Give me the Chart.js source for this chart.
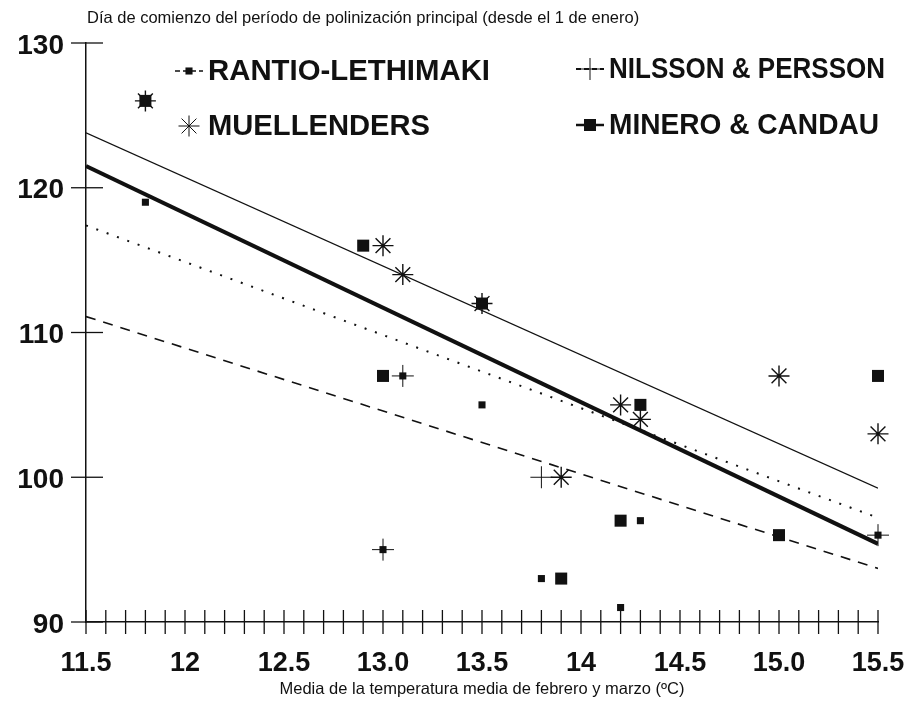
<!DOCTYPE html>
<html>
<head>
<meta charset="utf-8">
<script src="https://cdn.jsdelivr.net/npm/chart.js@4/dist/chart.umd.min.js"></script>
<style>
  html, body { margin: 0; padding: 0; background: #fff; }
  canvas { display: block; }
</style>
</head>
<body>
<canvas id="chart" width="909" height="714"></canvas>
<script>
// valores
const xTickLabels = ['11.5', '12', '12.5', '13.0', '13.5', '14', '14.5', '15.0', '15.5'];
const yTickLabels = ['90', '100', '110', '120', '130'];

const rantioX = [11.8, 13.1, 13.0, 13.5, 13.8, 14.2, 14.3, 15.5];
const rantioY = [119, 107, 95, 105, 93, 91, 97, 96];

const nilssonX = [13.1, 13.0, 13.8, 15.5];
const nilssonY = [107, 95, 100, 96];

const muellendersX = [11.8, 13.0, 13.1, 13.5, 13.9, 14.2, 14.3, 15.0, 15.5];
const muellendersY = [126, 116, 114, 112, 100, 105, 104, 107, 103];

const mineroX = [11.8, 12.9, 13.0, 13.5, 13.9, 14.2, 14.3, 15.0, 15.5];
const mineroY = [126, 116, 107, 112, 93, 97, 105, 96, 107];

// rectas de regresión (extremos)
const fitX = [11.5, 15.5];
const muellendersFit = [123.8, 99.25];
const mineroFit = [121.5, 95.4];
const nilssonFit = [117.4, 97.2];
const rantioFit = [111.1, 93.7];

const seriesNames = ['RANTIO-LETHIMAKI', 'NILSSON & PERSSON', 'MUELLENDERS', 'MINERO & CANDAU'];

const INK = '#111';
const FONT = "'Liberation Sans', Arial, sans-serif";

const toPts = (xs, ys) => xs.map((x, i) => ({ x: x, y: ys[i] }));

const fitLine = (ys, width, dash) => ({
    type: 'line',
    data: toPts(fitX, ys),
    borderColor: INK,
    borderWidth: width,
    borderDash: dash,
    pointRadius: 0,
    fill: false,
    showLine: true
});

const markers = (label, xs, ys, style, radius, bw) => ({
    type: 'scatter',
    label: label,
    data: toPts(xs, ys),
    pointStyle: style,
    pointRadius: radius,
    pointHoverRadius: radius,
    pointBorderWidth: bw,
    pointBackgroundColor: INK,
    pointBorderColor: INK,
    showLine: false,
    clip: false
});

// marcas que cruzan los ejes
const crossTicks = {
    id: 'crossTicks',
    afterDatasetsDraw(chart) {
        const ctx = chart.ctx;
        const xs = chart.scales.x, ys = chart.scales.y;
        ctx.save();
        ctx.strokeStyle = INK;
        ctx.lineWidth = 1.3;
        xs.ticks.forEach(t => {
            const px = xs.getPixelForValue(t.value);
            ctx.beginPath();
            ctx.moveTo(px, ys.bottom - 12);
            ctx.lineTo(px, ys.bottom + 12);
            ctx.stroke();
        });
        ys.ticks.forEach(t => {
            const py = ys.getPixelForValue(t.value);
            ctx.beginPath();
            ctx.moveTo(xs.left - 15, py);
            ctx.lineTo(xs.left + 17, py);
            ctx.stroke();
        });
        ctx.restore();
    }
};

// títulos de los ejes
const axisTexts = {
    id: 'axisTexts',
    afterDraw(chart) {
        const ctx = chart.ctx;
        const area = chart.chartArea;
        ctx.save();
        ctx.fillStyle = INK;
        ctx.font = '16.5px ' + FONT;
        ctx.textBaseline = 'middle';
        ctx.textAlign = 'left';
        ctx.fillText('Día de comienzo del período de polinización principal (desde el 1 de enero)', area.left + 1, 18);
        ctx.textAlign = 'center';
        ctx.fillText('Media de la temperatura media de febrero y marzo (ºC)', (area.left + area.right) / 2, 689);
        ctx.restore();
    }
};

// leyenda en dos columnas dentro del área
const legendBox = {
    id: 'legendBox',
    afterDraw(chart) {
        const ctx = chart.ctx;
        const area = chart.chartArea;
        const slots = [
            { ds: 4, line: 3, mx: 103, my: 28, w: 282 },
            { ds: 5, line: 2, mx: 504, my: 26, w: 276 },
            { ds: 6, line: null, mx: 103, my: 83, w: 222 },
            { ds: 7, line: 1, mx: 504, my: 82, w: 270 }
        ];
        ctx.save();
        slots.forEach((s, i) => {
            const ds = chart.data.datasets[s.ds];
            const x = area.left + s.mx, y = area.top + s.my;
            if (s.line !== null) {
                const ln = chart.data.datasets[s.line];
                ctx.save();
                ctx.strokeStyle = INK;
                ctx.lineWidth = Math.min(ln.borderWidth, 2.5);
                ctx.setLineDash(ln.borderDash && ln.borderDash.length ? [5, 3] : []);
                ctx.beginPath();
                ctx.moveTo(x - 14, y);
                ctx.lineTo(x + 14, y);
                ctx.stroke();
                ctx.restore();
            }
            ctx.fillStyle = INK;
            ctx.strokeStyle = INK;
            Chart.helpers.drawPoint(ctx, {
                pointStyle: ds.pointStyle,
                radius: ds.pointRadius,
                borderWidth: ds.pointBorderWidth,
                rotation: 0
            }, x, y);
            ctx.font = 'bold 29px ' + FONT;
            ctx.textAlign = 'left';
            ctx.textBaseline = 'middle';
            const tw = ctx.measureText(seriesNames[i]).width;
            ctx.save();
            ctx.translate(x + 19, y + 1);
            ctx.scale(s.w / tw, 1);
            ctx.fillText(seriesNames[i], 0, 0);
            ctx.restore();
        });
        ctx.restore();
    }
};

const ctx = document.getElementById('chart').getContext('2d');
new Chart(ctx, {
    type: 'scatter',
    data: {
        datasets: [
            fitLine(muellendersFit, 1.3, []),
            fitLine(mineroFit, 4, []),
            fitLine(nilssonFit, 2, [2, 9]),
            fitLine(rantioFit, 1.6, [10, 8]),
            markers(seriesNames[0], rantioX, rantioY, 'rect', 5, 0),
            markers(seriesNames[1], nilssonX, nilssonY, 'cross', 11, 1),
            markers(seriesNames[2], muellendersX, muellendersY, 'star', 10.5, 1.4),
            markers(seriesNames[3], mineroX, mineroY, 'rect', 8.5, 0)
        ]
    },
    options: {
        responsive: false,
        animation: false,
        devicePixelRatio: 1,
        layout: { padding: { top: 43, right: 31, left: 0, bottom: 0 } },
        plugins: {
            legend: { display: false },
            tooltip: { enabled: false },
            title: { display: false }
        },
        scales: {
            x: {
                type: 'linear',
                min: 11.5,
                max: 15.5,
                afterFit: (s) => { s.height = 92; s.paddingLeft = 0; s.paddingRight = 0; },
                grid: { display: false, drawTicks: false },
                border: { display: true, color: INK, width: 1.5 },
                ticks: {
                    stepSize: 0.1,
                    autoSkip: false,
                    maxRotation: 0,
                    padding: 25,
                    color: INK,
                    font: { family: FONT, size: 27, weight: 'bold' },
                    callback: (v) => {
                        const i = Math.round((v - 11.5) / 0.5);
                        return Math.abs(v - (11.5 + i * 0.5)) < 1e-6 ? xTickLabels[i] : '';
                    }
                }
            },
            y: {
                type: 'linear',
                min: 90,
                max: 130,
                afterFit: (s) => { s.width = 86; s.paddingTop = 0; s.paddingBottom = 0; },
                grid: { display: false, drawTicks: false },
                border: { display: true, color: INK, width: 1.5 },
                ticks: {
                    stepSize: 10,
                    padding: 22,
                    labelOffset: 3,
                    color: INK,
                    font: { family: FONT, size: 28, weight: 'bold' },
                    callback: (v) => yTickLabels[Math.round((v - 90) / 10)]
                }
            }
        }
    },
    plugins: [crossTicks, axisTexts, legendBox]
});
</script>
</body>
</html>
